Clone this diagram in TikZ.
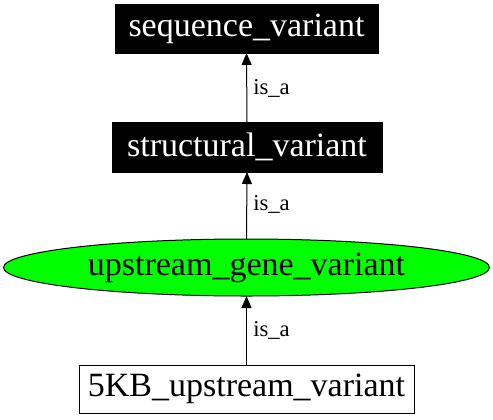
\documentclass[tikz,border=0pt]{standalone}
\usepackage{fontspec}
\setmainfont{Liberation Serif}
\usetikzlibrary{arrows.meta,shapes.geometric}
\begin{document}
\begin{tikzpicture}[x=0.75pt,y=-0.75pt,
  base/.style={inner sep=0pt,outer sep=0pt,font=\fontsize{25.5}{30}\selectfont},
  blackbox/.style={base,rectangle,fill=black,draw=black,text=white},
  whitebox/.style={base,rectangle,fill=white,draw=black,line width=0.75pt},
  greenell/.style={base,ellipse,fill=green,draw=black,line width=0.75pt},
  edge/.style={draw=black,line width=0.75pt,-{Triangle[width=7.5pt,length=9pt]}},
  lbl/.style={inner sep=0pt,anchor=west,font=\fontsize{17}{20}\selectfont}]
\useasboundingbox (0,0) rectangle (493,419);
\node[blackbox,minimum width=263*0.75pt,minimum height=49*0.75pt] (seq) at (246.5,28.5) {sequence\_variant};
\node[blackbox,minimum width=270*0.75pt,minimum height=50*0.75pt] (struct) at (247,147) {structural\_variant};
\node[greenell,minimum width=486*0.75pt,minimum height=57*0.75pt] (up) at (246.5,267.5) {upstream\_gene\_variant};
\node[whitebox,minimum width=335*0.75pt,minimum height=48*0.75pt] (kb) at (246.5,389) {5KB\_upstream\_variant};
\draw[edge] (struct.north) -- (seq.south);
\draw[edge] (up.north) -- (struct.south);
\draw[edge] (kb.north) -- (up.south);
\node[lbl] (l1) at (253,88) {is\_a};
\node[lbl] (l2) at (253,204) {is\_a};
\node[lbl] (l3) at (253,330) {is\_a};
\end{tikzpicture}
\end{document}
